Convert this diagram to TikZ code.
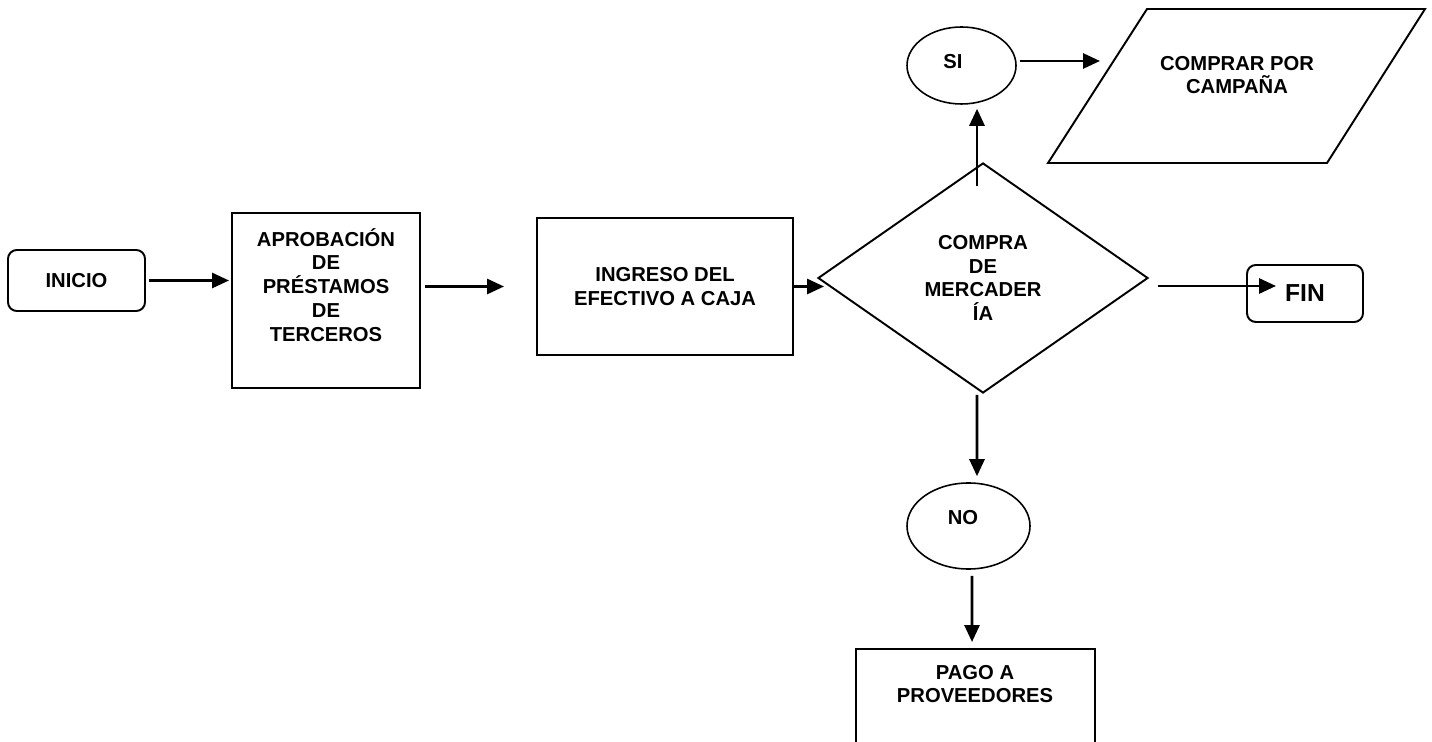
\documentclass[tikz,border=0pt]{standalone}
\usepackage{fontspec}
\setmainfont{Liberation Sans}
\usetikzlibrary{
  arrows.meta,
  shapes.geometric,
  positioning
}
\newcommand{\pxu}{0.02cm}
\tikzset{
  txt/.style = {font=\bfseries\fontsize{11.5}{13.6}\selectfont, align=center, inner sep=0pt},
  box/.style = {draw, line width=1.1pt, txt},
  terminal/.style = {box, rounded corners=5pt},
  oval/.style = {box, ellipse, line width=0.9pt},
  decision/.style = {box, diamond},
  arr/.style = {line width=1.6pt, -{Triangle[length=0.34cm,width=0.3cm]}},
}

\begin{document}
\begin{tikzpicture}[x=\pxu, y=-\pxu]
	\useasboundingbox (0,0) rectangle (1432,742);

	% nodes
	\node[terminal, minimum width=137*\pxu, minimum height=61*\pxu] (inicio) at (76.5,280.5) {INICIO};
	\node[box, minimum width=188*\pxu, minimum height=175*\pxu] (aprob) at (326,300.5) {};
	\node[txt] (aprobtxt) at (326,285) {APROBACIÓN\\DE\\PRÉSTAMOS\\DE\\TERCEROS};
	\node[box, minimum width=256*\pxu, minimum height=137*\pxu] (ingreso) at (665,286.5) {INGRESO DEL\\EFECTIVO A CAJA};
	\node[decision, minimum width=330*\pxu, minimum height=230*\pxu] (compra) at (983,278) {COMPRA\\DE\\MERCADER\\ÍA};
	\node[oval, minimum width=109*\pxu, minimum height=77*\pxu] (si) at (961.5,65.5) {};
	\node[txt] (sitxt) at (953,62) {SI};
	\draw[line width=1.1pt] (1147,9) -- (1425,9) -- (1327,163) -- (1048,163) -- cycle;
	\coordinate (campin) at (1100,61);
	\node[txt] (campana) at (1237,75) {COMPRAR POR\\CAMPAÑA};
	\node[terminal, minimum width=116*\pxu, minimum height=57*\pxu, font=\bfseries\fontsize{14}{16}\selectfont] (fin) at (1305,293.5) {FIN};
	\node[oval, minimum width=123*\pxu, minimum height=86*\pxu] (no) at (968.5,526) {};
	\node[txt] (notxt) at (963,518) {NO};
	\node[box, anchor=north, minimum width=239*\pxu, minimum height=150*\pxu] (pago) at (975.5,648) {};
	\node[txt] (pagotxt) at (975,684) {PAGO A\\PROVEEDORES};

	% connectors
	\draw[arr, shorten <=3*\pxu, shorten >=2*\pxu] (inicio.east) -- (inicio.east -| aprob.west);
	\draw[arr, shorten <=4*\pxu, shorten >=32*\pxu] (aprob.east |- ingreso) -- (ingreso.west);
	\draw[arr, shorten >=-7*\pxu] (ingreso.east) -- (ingreso.east -| compra.west);
	\draw[arr, shorten >=4*\pxu] ([shift={(-6,24)}]compra.north) -- ([xshift=-6*\pxu]compra.north |- si.south);
	\draw[arr] ([xshift=3*\pxu]si.east |- campin) -- (campin);
	\draw[arr] ([shift={(9,8)}]compra.east) -- ([shift={(30,-7.5)}]fin.west);
	\draw[arr] ([shift={(-6,1)}]compra.south) -- ([shift={(8.5,-6)}]no.north);
	\draw[arr] ([shift={(3.5,6)}]no.south) -- ([shift={(-3.5,-6)}]pago.north);
\end{tikzpicture}
\end{document}
